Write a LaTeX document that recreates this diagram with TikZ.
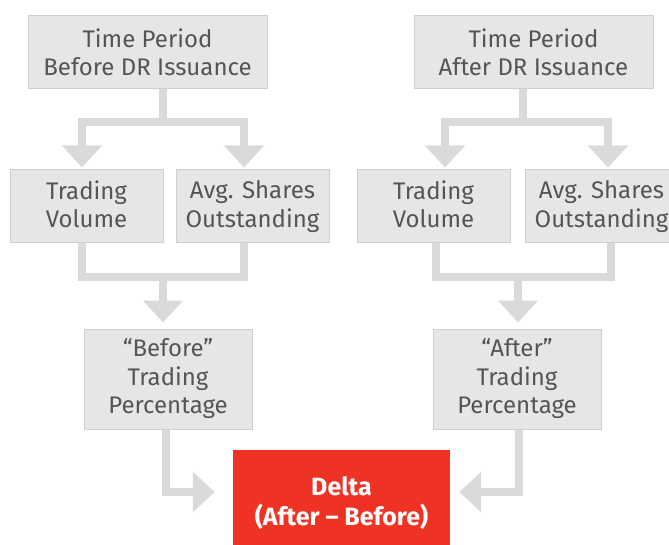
\documentclass[tikz,border=0pt]{standalone}
\usepackage{fontspec}
\setmainfont{Fira Sans}
\usetikzlibrary{arrows.meta,calc}
\definecolor{boxfill}{HTML}{E6E6E6}
\definecolor{boxline}{HTML}{CFCFCF}
\definecolor{txt}{HTML}{555555}
\definecolor{conn}{HTML}{D9DADB}
\definecolor{deltared}{HTML}{EE3224}
\tikzset{
  gbox/.style={draw=boxline, line width=1pt, fill=boxfill, text=txt, align=center,
    inner sep=0pt, font=\fontsize{24}{28.5}\selectfont},
  redbox/.style={fill=deltared, text=white, align=center, inner sep=0pt,
    font=\fontsize{25}{30}\selectfont\bfseries},
  conline/.style={draw=conn, line width=8pt, line join=miter,
    -{Triangle[width=39pt,length=22pt]}},
}
\begin{document}
\begin{tikzpicture}[x=1pt,y=-1pt]
\useasboundingbox (0,0) rectangle (669,545);
\begin{scope}
\clip (0,0) rectangle (669,545);
% boxes
\node[gbox, minimum width=239pt, minimum height=73pt] (tb) at (147.5,52.5) {Time Period\\Before DR Issuance};
\node[gbox, minimum width=239pt, minimum height=73pt] (ta) at (533.5,52.5) {Time Period\\After DR Issuance};
\node[gbox, minimum width=153pt, minimum height=73pt] (tvb) at (86.5,206.5) {Trading\\Volume\vphantom{g}};
\node[gbox, minimum width=153pt, minimum height=73pt] (asb) at (252.5,206.5) {Avg. Shares\\Outstanding};
\node[gbox, minimum width=153pt, minimum height=73pt] (tva) at (433.5,206.5) {Trading\\Volume\vphantom{g}};
\node[gbox, minimum width=153pt, minimum height=73pt] (asa) at (601.5,206.5) {Avg. Shares\\Outstanding};
\node[gbox, minimum width=168pt, minimum height=100pt] (pb) at (168,379) {“Before”\\Trading\\Percentage};
\node[gbox, minimum width=168pt, minimum height=100pt] (pa) at (517,379) {“After”\\Trading\\Percentage};
\node[redbox, minimum width=217pt, minimum height=106pt] (delta) at (341.5,503) {Delta\\(After – Before)};

% top-left split
\coordinate (tbj) at ($(tb.south)+(15.5,33)$);
\draw[draw=conn, line width=8pt] ($(tb.south)+(15.5,0)$) -- (tbj);
\draw[conline] (tbj) -| ($(tvb.north)+(-4.5,-2)$);
\draw[conline] (tbj) -| ($(asb.north)+(-8.5,-2)$);
% top-right split
\coordinate (taj) at ($(ta.south)+(-10.5,33)$);
\draw[draw=conn, line width=8pt] ($(ta.south)+(-10.5,0)$) -- (taj);
\draw[conline] (taj) -| ($(tva.north)+(11.5,-2)$);
\draw[conline] (taj) -| ($(asa.north)+(6.5,-2)$);
% lower-left merge
\coordinate (lbj) at (163,277);
\draw[draw=conn, line width=8pt, line join=miter] ($(tvb.south)+(-4.5,0)$) |- (lbj) -| ($(asb.south)+(-8.5,0)$);
\draw[conline] (lbj) -- ($(pb.north)+(-5,-6)$);
% lower-right merge
\coordinate (laj) at (518,277);
\draw[draw=conn, line width=8pt, line join=miter] ($(tva.south)+(2.5,0)$) |- (laj) -| ($(asa.south)+(9.5,0)$);
\draw[conline] (laj) -- ($(pa.north)+(1,-6)$);
% into delta
\draw[conline] ($(pb.south)+(-2,0)$) |- ($(delta.west)+(-18,-11)$);
\draw[conline] ($(pa.south)+(2,0)$) |- ($(delta.east)+(9,-11)$);
\end{scope}
\end{tikzpicture}
\end{document}
